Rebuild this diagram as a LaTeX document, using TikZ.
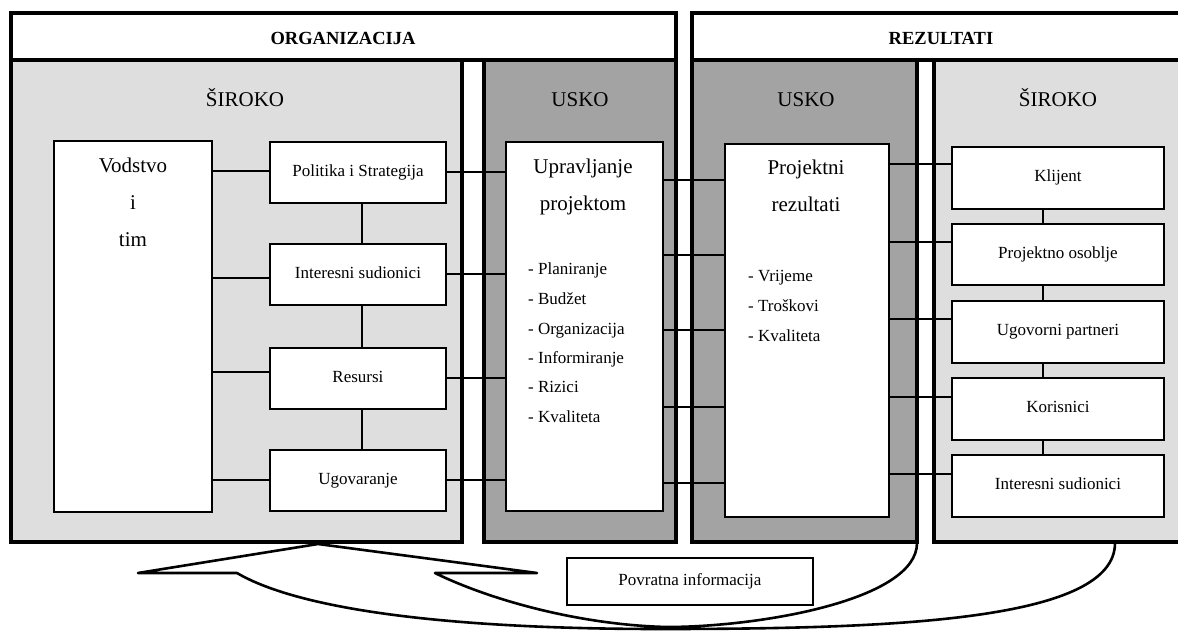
\documentclass[tikz,border=0pt]{standalone}
\usepackage{fontspec}
\setmainfont{Liberation Serif}
\definecolor{lightp}{RGB}{222,222,222}
\definecolor{darkp}{RGB}{163,163,163}
\begin{document}
\begin{tikzpicture}[x=1pt,y=-1pt,
  panelline/.style={draw=black, line width=3.6pt},
  hdrbox/.style={draw=black, line width=4pt, fill=white},
  wbox/.style={draw=black, line width=1.9pt, fill=white, inner sep=0pt, anchor=north west},
  conn/.style={draw=black, line width=1.9pt},
  bigtxt/.style={font=\fontsize{21}{25}\selectfont, text height=15pt, text depth=5pt, inner sep=0pt},
  smalltxt/.style={font=\fontsize{17}{20}\selectfont, text height=12pt, text depth=4pt},
  hdrtxt/.style={font=\fontsize{18.5}{22}\selectfont\bfseries, inner sep=0pt},
  fb/.style={draw=black, line width=2.6pt, line join=round, line cap=round}
]
\useasboundingbox (0,0) rectangle (1178,631);
% panels
\fill[lightp] (11,60) rectangle (462,542);
\fill[darkp] (484,60) rectangle (676,542);
\fill[darkp] (692,60) rectangle (917,542);
\fill[lightp] (934,60) rectangle (1184,542);
\draw[panelline] (11,60) rectangle (462,542);
\draw[panelline] (484,60) rectangle (676,542);
\draw[panelline] (692,60) rectangle (917,542);
\draw[panelline] (934,60) rectangle (1184,542);
\draw[hdrbox] (11,13) rectangle (676,60);
\draw[hdrbox] (692,13) rectangle (1184,60);
\node[hdrtxt] (horg) at (343,38) {ORGANIZACIJA};
\node[hdrtxt] (hrez) at (941,38) {REZULTATI};
% panel titles
\node[bigtxt] (s1) at (245,102) {ŠIROKO};
\node[bigtxt] (s2) at (580,102) {USKO};
\node[bigtxt] (s3) at (806,102) {USKO};
\node[bigtxt] (s4) at (1058,102) {ŠIROKO};
% left column
\node[wbox, minimum width=158pt, minimum height=371pt] (vod) at (53,140) {};
\node[bigtxt] (vod1) at (133,168) {Vodstvo};
\node[bigtxt] (vod2) at (133,205) {i};
\node[bigtxt] (vod3) at (133,242) {tim};
\node[wbox, smalltxt, minimum width=176pt, minimum height=61pt] (pol) at (269,141) {Politika i Strategija};
\node[wbox, smalltxt, minimum width=176pt, minimum height=61pt] (int) at (269,243) {Interesni sudionici};
\node[wbox, smalltxt, minimum width=176pt, minimum height=61pt] (res) at (269,347) {Resursi};
\node[wbox, smalltxt, minimum width=176pt, minimum height=61pt] (ugo) at (269,449) {Ugovaranje};
% upravljanje
\node[wbox, minimum width=157pt, minimum height=369pt] (upr) at (505,141) {};
\node[bigtxt] (upr1) at (583,169) {Upravljanje};
\node[bigtxt] (upr2) at (583,206) {projektom};
\node[smalltxt, anchor=west, inner sep=0pt] (ul1) at (528,270) {- Planiranje};
\node[smalltxt, anchor=west, inner sep=0pt] (ul2) at (528,300) {- Budžet};
\node[smalltxt, anchor=west, inner sep=0pt] (ul3) at (528,330) {- Organizacija};
\node[smalltxt, anchor=west, inner sep=0pt] (ul4) at (528,359) {- Informiranje};
\node[smalltxt, anchor=west, inner sep=0pt] (ul5) at (528,388) {- Rizici};
\node[smalltxt, anchor=west, inner sep=0pt] (ul6) at (528,418) {- Kvaliteta};
% projektni rezultati
\node[wbox, minimum width=164pt, minimum height=373pt] (prj) at (724,143) {};
\node[bigtxt] (prj1) at (806,170) {Projektni};
\node[bigtxt] (prj2) at (806,207) {rezultati};
\node[smalltxt, anchor=west, inner sep=0pt] (pl1) at (748,277) {- Vrijeme};
\node[smalltxt, anchor=west, inner sep=0pt] (pl2) at (748,307) {- Troškovi};
\node[smalltxt, anchor=west, inner sep=0pt] (pl3) at (748,337) {- Kvaliteta};
% right column
\node[wbox, smalltxt, minimum width=212pt, minimum height=62pt] (kli) at (951,146) {Klijent};
\node[wbox, smalltxt, minimum width=212pt, minimum height=61pt] (pos) at (951,223) {Projektno osoblje};
\node[wbox, smalltxt, minimum width=212pt, minimum height=62pt] (ugp) at (951,300) {Ugovorni partneri};
\node[wbox, smalltxt, minimum width=212pt, minimum height=62pt] (kor) at (951,377) {Korisnici};
\node[wbox, smalltxt, minimum width=212pt, minimum height=62pt] (isu) at (951,454) {Interesni sudionici};
% feedback box
\node[wbox, smalltxt, minimum width=246pt, minimum height=47pt] (pov) at (566,557) {Povratna informacija};
% connectors: Vodstvo -> left boxes
\draw[conn] (vod.east |- 0,171) -- (pol.west |- 0,171);
\draw[conn] (vod.east |- 0,278) -- (int.west |- 0,278);
\draw[conn] (vod.east |- 0,372) -- (res.west |- 0,372);
\draw[conn] (vod.east |- 0,480) -- (ugo.west |- 0,480);
% verticals left
\draw[conn] (pol.south -| 362,0) -- (int.north -| 362,0);
\draw[conn] (int.south -| 362,0) -- (res.north -| 362,0);
\draw[conn] (res.south -| 362,0) -- (ugo.north -| 362,0);
% left boxes -> upravljanje
\draw[conn] (pol.east |- 0,172) -- (upr.west |- 0,172);
\draw[conn] (int.east |- 0,274) -- (upr.west |- 0,274);
\draw[conn] (res.east |- 0,378) -- (upr.west |- 0,378);
\draw[conn] (ugo.east |- 0,480) -- (upr.west |- 0,480);
% upravljanje -> projektni
\draw[conn] (upr.east |- 0,180) -- (prj.west |- 0,180);
\draw[conn] (upr.east |- 0,255) -- (prj.west |- 0,255);
\draw[conn] (upr.east |- 0,330) -- (prj.west |- 0,330);
\draw[conn] (upr.east |- 0,407) -- (prj.west |- 0,407);
\draw[conn] (upr.east |- 0,483) -- (prj.west |- 0,483);
% projektni -> right boxes
\draw[conn] (prj.east |- 0,164) -- (kli.west |- 0,164);
\draw[conn] (prj.east |- 0,242) -- (pos.west |- 0,242);
\draw[conn] (prj.east |- 0,319) -- (ugp.west |- 0,319);
\draw[conn] (prj.east |- 0,397) -- (kor.west |- 0,397);
\draw[conn] (prj.east |- 0,474) -- (isu.west |- 0,474);
% verticals right
\draw[conn] (kli.south -| 1043,0) -- (pos.north -| 1043,0);
\draw[conn] (pos.south -| 1043,0) -- (ugp.north -| 1043,0);
\draw[conn] (ugp.south -| 1043,0) -- (kor.north -| 1043,0);
\draw[conn] (kor.south -| 1043,0) -- (isu.north -| 1043,0);
% feedback arrow
\coordinate (fbin) at (917,543);
\coordinate (fbout) at (1115,543);
\coordinate (fbtip) at (318,544);
\draw[fb] (fbin) .. controls (917,600) and (760,627) .. (667,627)
  .. controls (580,625) and (490,600) .. (435,573)
  -- (537,573) -- (fbtip) -- (138,573) -- (237,573)
  .. controls (300,610) and (450,629) .. (660,629)
  .. controls (900,629) and (1115,620) .. (fbout);
\end{tikzpicture}
\end{document}
